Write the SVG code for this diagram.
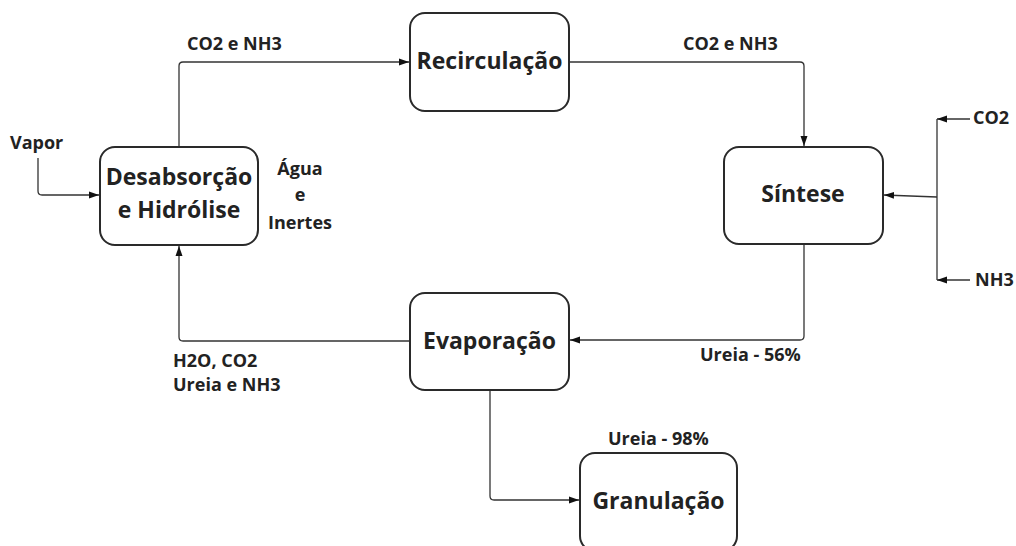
<svg xmlns="http://www.w3.org/2000/svg" width="1016" height="546" viewBox="0 0 1016 546">
<style>
.box{fill:#fff;stroke:#2a2a2a;stroke-width:2}
.t{font-family:"Open Sans","Liberation Sans",sans-serif;font-weight:700;fill:#222}
.n{font-size:23px;text-anchor:middle}
.l{font-size:18px}
.c{fill:none;stroke:#333;stroke-width:1.3}
</style>
<defs>
<marker id="ah" viewBox="0 0 10 10" refX="10" refY="5" markerWidth="10" markerHeight="10" markerUnits="userSpaceOnUse" orient="auto">
<path d="M0,1.5 L10,5 L0,8.5 z" fill="#111"/>
</marker>
</defs>
<rect width="1016" height="546" fill="#fff"/>
<g id="connectors">
<path class="c" d="M179,147 V66 Q179,62 183,62 H409" marker-end="url(#ah)"/>
<path class="c" d="M569,62 H800 Q804,62 804,66 V146" marker-end="url(#ah)"/>
<path class="c" d="M804,244 V336 Q804,340 800,340 H570" marker-end="url(#ah)"/>
<path class="c" d="M410,341 H183 Q179,341 179,337 V246" marker-end="url(#ah)"/>
<path class="c" d="M490,390 V496 Q490,500 494,500 H579" marker-end="url(#ah)"/>
<path class="c" d="M38,158 V191 Q38,195 42,195 H99" marker-end="url(#ah)"/>
<path class="c" d="M970,119 H937" marker-end="url(#ah)"/>
<path class="c" d="M970,280 H937" marker-end="url(#ah)"/>
<path class="c" d="M937,119 V280"/>
<path class="c" d="M937,197 L884,195" marker-end="url(#ah)"/>
</g>
<g id="desabsorcao">
<rect class="box" x="100" y="147" width="158" height="98" rx="15"/>
<text class="t n" x="179" y="185">Desabsorção</text>
<text class="t n" x="179" y="218">e Hidrólise</text>
</g>
<g id="recirculacao">
<rect class="box" x="410" y="13" width="159" height="98" rx="15"/>
<text class="t n" x="489.5" y="69">Recirculação</text>
</g>
<g id="sintese">
<rect class="box" x="724" y="147" width="159" height="97" rx="15"/>
<text class="t n" x="803" y="202">Síntese</text>
</g>
<g id="evaporacao">
<rect class="box" x="410" y="293" width="159" height="97" rx="15"/>
<text class="t n" x="489.5" y="349">Evaporação</text>
</g>
<g id="granulacao">
<rect class="box" x="580" y="453" width="157" height="98" rx="15"/>
<text class="t n" x="658.5" y="509">Granulação</text>
</g>
<g id="labels">
<text class="t l" x="187" y="50">CO2 e NH3</text>
<text class="t l" x="683" y="50">CO2 e NH3</text>
<text class="t l" x="10" y="149">Vapor</text>
<text class="t l" x="300" y="175" text-anchor="middle">Água</text>
<text class="t l" x="300" y="201" text-anchor="middle">e</text>
<text class="t l" x="300" y="229" text-anchor="middle">Inertes</text>
<text class="t l" x="973" y="124">CO2</text>
<text class="t l" x="975" y="286">NH3</text>
<text class="t l" x="173" y="367">H2O, CO2</text>
<text class="t l" x="173" y="391">Ureia e NH3</text>
<text class="t l" x="700" y="361">Ureia - 56%</text>
<text class="t l" x="608" y="445">Ureia - 98%</text>
</g>
</svg>
